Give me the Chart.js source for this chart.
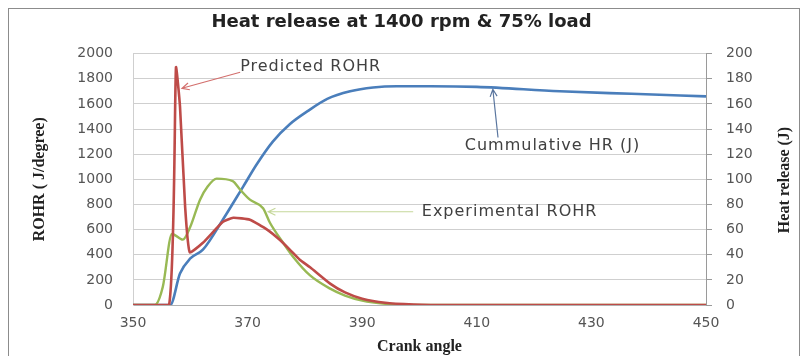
<!DOCTYPE html>
<html>
<head>
<meta charset="utf-8">
<script src="https://cdn.jsdelivr.net/npm/chart.js@4.4.1/dist/chart.umd.min.js"></script>
<style>
  html, body { margin: 0; padding: 0; background: #fff; }
  #wrap { width: 803px; height: 356px; position: relative; }
</style>
</head>
<body>
<div id="wrap"><canvas id="myChart"></canvas></div>
<script>
// values (crank angle in degrees)
const predAngle = [350, 356.3, 357.5, 358.2, 359.1, 359.9, 362.2, 365.7, 367.5, 370.4, 373.4, 375.6, 377.4, 379.1, 380.9, 384.4, 387, 390, 394, 399, 402, 450];
const predRohr  = [0, 0, 1890, 1580, 780, 420, 495, 662, 694, 678, 600, 519, 439, 360, 300, 170, 100, 50, 18, 3, 0, 0];

const expAngle = [350, 353.8, 355.2, 356.8, 358.7, 360, 361.7, 363, 364.6, 367.4, 368.7, 370.4, 372.7, 373.9, 376.2, 378, 380.9, 384.4, 387, 390, 394, 399, 450];
const expRohr  = [0, 0, 144, 565, 520, 622, 838, 940, 1005, 985, 918, 838, 770, 654, 495, 380, 235, 130, 75, 35, 10, 0, 0];

const cumAngle = [350, 356.5, 358.2, 360, 362.2, 365.7, 369.2, 371.6, 374.4, 377.4, 380.4, 383.9, 387.9, 391.9, 396, 402, 410, 424.5, 437, 450];
const cumHeat  = [0, 0, 25, 37, 44, 68, 94, 112, 130, 144, 154, 164, 170, 173, 174, 174, 173.5, 170, 168, 166];

const rohrTicks = { min: 0, max: 2000, step: 200 };
const heatTicks = { min: 0, max: 200, step: 20 };
const angleTicks = { min: 350, max: 450, step: 20 };

// callout labels, anchored in data units (angle, ROHR)
const notes = [
  { text: 'Predicted ROHR', x: 368.7, y: 1892, tail: [368.7, 1852], head: [358.55, 1724], color: '#d36f6d' },
  { text: 'Cummulative HR (J)', x: 407.9, y: 1269, tail: [413.7, 1333], head: [412.8, 1716], color: '#5a769f' },
  { text: 'Experimental ROHR', x: 400.4, y: 742, tail: [398.9, 742], head: [373.6, 742], color: '#c5d89a' }
];

const toXY = (xs, ys) => xs.map((x, i) => ({ x: x, y: ys[i] }));

const frame = {
  id: 'frame',
  beforeDraw(chart) {
    const c = chart.ctx;
    c.save();
    c.fillStyle = '#fff';
    c.fillRect(0, 0, chart.width, chart.height);
    c.strokeStyle = '#8c8c8c';
    c.lineWidth = 1;
    c.strokeRect(8.5, 8.5, 791, 360);
    c.restore();
  }
};

const callouts = {
  id: 'callouts',
  afterDatasetsDraw(chart) {
    const c = chart.ctx;
    const sx = chart.scales.x, sy = chart.scales.y;
    c.save();
    notes.forEach(n => {
      const tx = sx.getPixelForValue(n.tail[0]), ty = sy.getPixelForValue(n.tail[1]);
      const hx = sx.getPixelForValue(n.head[0]), hy = sy.getPixelForValue(n.head[1]);
      c.strokeStyle = n.color;
      c.lineWidth = 1.2;
      c.beginPath();
      c.moveTo(tx, ty);
      c.lineTo(hx, hy);
      const a = Math.atan2(hy - ty, hx - tx);
      const L = 8;
      c.moveTo(hx - L * Math.cos(a - 0.45), hy - L * Math.sin(a - 0.45));
      c.lineTo(hx, hy);
      c.lineTo(hx - L * Math.cos(a + 0.45), hy - L * Math.sin(a + 0.45));
      c.stroke();
      c.fillStyle = '#404040';
      c.font = '16px "DejaVu Sans"';
      c.letterSpacing = '1px';
      c.textAlign = 'left';
      c.textBaseline = 'middle';
      c.fillText(n.text, sx.getPixelForValue(n.x), sy.getPixelForValue(n.y));
      c.letterSpacing = '0px';
    });
    // right axis title, reading bottom to top
    c.translate(785, 180);
    c.rotate(-Math.PI / 2);
    c.fillStyle = '#222';
    c.font = 'bold 16px "Liberation Serif"';
    c.textAlign = 'center';
    c.textBaseline = 'middle';
    c.fillText('Heat release (J)', 0, 0);
    c.restore();
  }
};

const tickFont = { family: 'DejaVu Sans', size: 14 };
const plain = v => String(v);

new Chart(document.getElementById('myChart'), {
  type: 'line',
  data: {
    datasets: [
      {
        label: 'Predicted ROHR',
        data: toXY(predAngle, predRohr),
        borderColor: '#be4b48',
        borderWidth: 2.6,
        cubicInterpolationMode: 'default',
        tension: 0.15,
        yAxisID: 'y'
      },
      {
        label: 'Experimental ROHR',
        data: toXY(expAngle, expRohr),
        borderColor: '#98b954',
        borderWidth: 2.4,
        yAxisID: 'y'
      },
      {
        label: 'Cummulative HR (J)',
        data: toXY(cumAngle, cumHeat),
        borderColor: '#4a7ebb',
        borderWidth: 2.6,
        yAxisID: 'y1'
      }
    ]
  },
  options: {
    responsive: true,
    maintainAspectRatio: false,
    animation: false,
    layout: { padding: 0 },
    elements: {
      point: { radius: 0 },
      line: { cubicInterpolationMode: 'monotone', fill: false }
    },
    plugins: {
      legend: { display: false },
      tooltip: { enabled: false },
      title: {
        display: true,
        text: 'Heat release at 1400 rpm & 75% load',
        color: '#222',
        font: { family: 'DejaVu Sans', size: 18, weight: 'bold' },
        padding: { top: 12, bottom: 20 }
      }
    },
    scales: {
      x: {
        type: 'linear',
        min: angleTicks.min,
        max: angleTicks.max,
        afterFit: s => { s.height = 51; },
        ticks: { stepSize: angleTicks.step, color: '#555', font: tickFont, padding: 10, callback: plain },
        grid: { display: false, drawTicks: false },
        border: { display: true, color: '#b0b0b0' },
        title: {
          display: true,
          text: 'Crank angle',
          color: '#222',
          font: { family: 'Liberation Serif', size: 16, weight: 'bold' },
          padding: { top: 0, bottom: 0 }
        }
      },
      y: {
        position: 'left',
        min: rohrTicks.min,
        max: rohrTicks.max,
        afterFit: s => { s.width = 133; },
        ticks: { stepSize: rohrTicks.step, color: '#555', font: tickFont, padding: 20, callback: plain },
        grid: { color: '#cfcfcf', drawTicks: false },
        border: { color: '#cfcfcf' },
        title: {
          display: true,
          text: 'ROHR ( J/degree)',
          color: '#222',
          font: { family: 'Liberation Serif', size: 16, weight: 'bold' },
          padding: { top: 30, bottom: 6 }
        }
      },
      y1: {
        position: 'right',
        min: heatTicks.min,
        max: heatTicks.max,
        afterFit: s => { s.width = 97; },
        ticks: { stepSize: heatTicks.step, color: '#555', font: tickFont, padding: 14, callback: plain },
        grid: { drawOnChartArea: false, color: '#9a9a9a', tickLength: 6 },
        border: { color: '#9a9a9a' }
      }
    }
  },
  plugins: [frame, callouts]
});
</script>
</body>
</html>
